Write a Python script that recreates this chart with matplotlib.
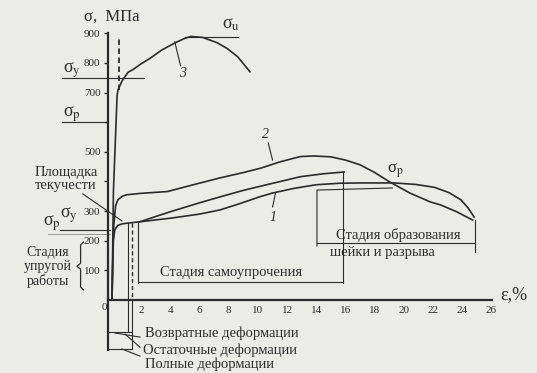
import matplotlib
matplotlib.use("Agg")
import matplotlib.pyplot as plt

plt.rcParams['font.family'] = ['Liberation Serif', 'DejaVu Serif']
plt.rcParams['mathtext.fontset'] = 'stix'

# curve 3 - high strength steel
strain_3 = [0, 0.1, 0.35, 0.42, 0.7, 1.1, 1.45, 2.0, 2.6, 3.4, 4.3, 5.0, 5.4, 6.2, 7.2, 7.9, 8.6, 9.45]
stress_3 = [0, 370, 690, 710, 740, 768, 778, 797, 815, 843, 867, 883, 889, 886, 868, 848, 821, 770]

# curve 2 - low alloy steel
strain_2 = [0, 0.12, 0.25, 0.4, 0.7, 1.0, 2.0, 3.8, 5.5, 7.4, 9.0, 10.2, 11.5, 12.9, 13.8, 15.0,
            16.0, 17.0, 18.0, 19.0, 20.4, 21.8, 22.5, 23.6, 24.7]
stress_2 = [0, 250, 318, 338, 350, 355, 360, 366, 388, 412, 430, 445, 466, 484, 486, 483,
            472, 456, 430, 399, 361, 331, 321, 298, 270]

# curve 1 - mild steel
strain_1 = [0, 0.08, 0.2, 0.4, 0.7, 1.0, 1.9, 4.0, 6.0, 7.4, 8.8, 10.1, 11.0, 12.5, 14.0, 15.6,
            17.0, 19.3, 20.8, 22.1, 23.1, 23.9, 24.4, 24.8]
stress_1 = [0, 200, 238, 252, 257, 259, 264, 276, 290, 304, 326, 348, 361, 377, 389, 394,
            395, 395, 390, 380, 362, 338, 310, 280]

# upper branch up to the end of self-hardening
strain_mid = [1.9, 4.0, 6.0, 7.4, 9.0, 10.6, 12.9, 14.5, 15.9]
stress_mid = [264, 298, 328, 348, 370, 389, 416, 426, 432]

y_ticks = [100, 200, 300, 400, 500, 600, 700, 800, 900]
y_labels = ['100', '200', '300', '', '500', '', '700', '800', '900']
x_ticks = [2, 4, 6, 8, 10, 12, 14, 16, 18, 20, 22, 24, 26]

ink = '#2b2b2b'
fig = plt.figure(figsize=(5.37, 3.73), dpi=100)
fig.patch.set_facecolor('#ebebe8')
ax = fig.add_axes([0, 0, 1, 1])
ax.set_facecolor('#ebebe8')
ax.set_xlim(-7.67, 29.11)
ax.set_ylim(-246, 1012)

for s in ['top', 'right']:
    ax.spines[s].set_visible(False)
ax.spines['left'].set_position(('data', -0.27))
ax.spines['left'].set_bounds(-169, 900)
ax.spines['bottom'].set_position(('data', 0))
ax.spines['bottom'].set_bounds(-0.27, 26.0)
for s in ['left', 'bottom']:
    ax.spines[s].set_linewidth(1.6)
    ax.spines[s].set_color(ink)

ax.set_yticks(y_ticks)
ax.set_yticklabels(y_labels)
ax.set_xticks(x_ticks)
ax.set_xticklabels([str(v) for v in x_ticks])
ax.tick_params(axis='y', direction='out', length=3, width=1, labelsize=8, pad=2.5, colors=ink)
ax.tick_params(axis='x', length=0, labelsize=8, pad=4, colors=ink)

lw = 1.2
ax.plot(strain_3, stress_3, color=ink, lw=lw)
ax.plot(strain_2, stress_2, color=ink, lw=lw)
ax.plot(strain_1, stress_1, color=ink, lw=lw)
ax.plot(strain_mid, stress_mid, color=ink, lw=lw)
ax.plot([0.48, 0.48], [710, 885], color=ink, lw=1.3, ls=(0, (3, 2)))

thin = dict(color=ink, lw=0.8)
# reference levels
ax.plot([5.0, 8.6], [888, 888], **thin)
ax.plot([-3.42, 2.19], [750, 750], **thin)
ax.plot([-3.42, -0.27], [601, 601], **thin)
ax.plot([-3.56, -0.14], [236, 236], **thin)
ax.plot([-4.4, -0.14], [223, 223], color='#8a8a8a', lw=0.6)

# leaders for curve numbers and yield plateau
ax.plot([4.3, 4.7], [871, 790], **thin)
ax.plot([10.7, 11.0], [530, 472], **thin)
ax.plot([11.2, 11.0], [361, 314], **thin)
ax.plot([-2.0, 0.68], [358, 267], **thin)

# brace for the elastic stage
ax.plot([-1.95, -2.15, -2.15, -2.4, -2.15, -2.15, -1.95],
        [196, 186, 124, 114, 104, 44, 34], color=ink, lw=0.9)

# self-hardening stage bracket
ax.plot([1.8, 1.8], [264, 58], **thin)
ax.plot([1.8, 15.8], [61, 61], **thin)
ax.plot([15.8, 15.8], [432, 58], **thin)
# necking stage bracket
ax.plot([19.2, 14.04, 14.04], [378, 371, 182], **thin)
ax.plot([14.04, 24.86], [192, 192], **thin)
ax.plot([24.86, 24.86], [270, 162], **thin)

# deformation lines
ax.plot([1.1, 1.1], [260, -108], **thin)
ax.plot([1.4, 1.4], [260, 0], color=ink, lw=1.0, ls=(0, (3, 2)))
ax.plot([1.4, 1.4], [0, -165], **thin)
ax.plot([-0.27, 1.4], [-108, -108], **thin)
ax.plot([-0.27, 1.4], [-165, -165], **thin)
ax.plot([0.2, 1.92], [-111, -125], **thin)
ax.plot([0.9, 1.92], [-115, -159], **thin)
ax.plot([0.68, 1.92], [-165, -189], **thin)

txt = dict(color=ink, ha='center', va='center')
ax.text(-0.55, -24, '0', fontsize=8, **txt)
ax.text(0.0, 955, 'σ,  МПа', fontsize=12, **txt)
ax.text(8.15, 930, 'σ$_\\mathrm{u}$', fontsize=13, **txt)
ax.text(-2.74, 776, 'σ$_\\mathrm{y}$', fontsize=13, **txt)
ax.text(-2.74, 628, 'σ$_\\mathrm{p}$', fontsize=13, **txt)
ax.text(19.4, 435, 'σ$_\\mathrm{p}$', fontsize=12, **txt)
ax.text(-4.1, 258, 'σ$_\\mathrm{p}$', fontsize=13, **txt)
ax.text(-2.95, 285, 'σ$_\\mathrm{y}$', fontsize=13, **txt)
ax.text(4.8, 763, '3', fontsize=10, style='italic', **txt)
ax.text(10.5, 557, '2', fontsize=10, style='italic', **txt)
ax.text(11.0, 280, '1', fontsize=10, style='italic', **txt)

ax.text(-3.15, 407, 'Площадка\nтекучести', fontsize=10.5, linespacing=1.0, **txt)
ax.text(-4.4, 112, 'Стадия\nупругой\nработы', fontsize=10, linespacing=1.1, **txt)
ax.text(8.15, 92, 'Стадия самоупрочения', fontsize=10.5, **txt)
ax.text(19.6, 220, 'Стадия образования', fontsize=10.5, **txt)
ax.text(14.9, 162, 'шейки и разрыва', fontsize=10.5, color=ink, ha='left', va='center')
ax.text(2.26, -111, 'Возвратные деформации', fontsize=10.5, color=ink, ha='left', va='center')
ax.text(2.12, -169, 'Остаточные деформации', fontsize=10.5, color=ink, ha='left', va='center')
ax.text(2.26, -218, 'Полные деформации', fontsize=10.5, color=ink, ha='left', va='center')
ax.text(27.5, 17, 'ε,%', fontsize=13, **txt)

fig.savefig('out.png', dpi=100, facecolor=fig.get_facecolor())
